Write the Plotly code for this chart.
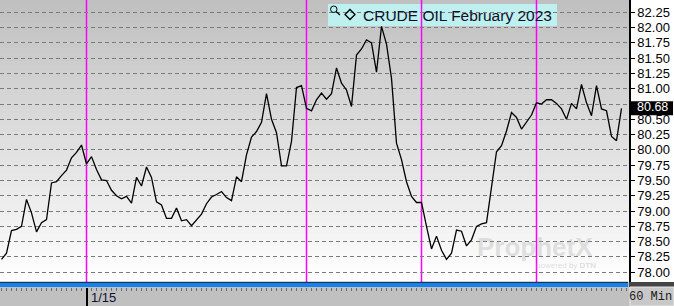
import plotly.graph_objects as go

# ---------------- data ----------------
bar_index = list(range(125))
close = [
    78.21, 78.31, 78.68, 78.70, 78.75, 79.19, 78.97, 78.66, 78.81, 78.86,
    79.46, 79.48, 79.58, 79.67, 79.87, 79.96, 80.08, 79.77, 79.89, 79.68,
    79.51, 79.50, 79.34, 79.25, 79.20, 79.24, 79.13, 79.55, 79.41, 79.72,
    79.55, 79.15, 79.10, 78.88, 78.88, 79.05, 78.84, 78.86, 78.76, 78.86,
    78.95, 79.12, 79.23, 79.27, 79.32, 79.22, 79.17, 79.56, 79.48, 79.92,
    80.21, 80.30, 80.45, 80.92, 80.50, 80.28, 79.74, 79.74, 80.14, 81.02,
    81.05, 80.68, 80.64, 80.82, 80.93, 80.83, 80.92, 81.34, 81.09, 80.98,
    80.71, 81.55, 81.65, 81.80, 81.75, 81.27, 82.02, 81.73, 81.17, 80.11,
    79.84, 79.48, 79.24, 79.14, 79.14, 78.75, 78.38, 78.59, 78.36, 78.21,
    78.31, 78.69, 78.67, 78.43, 78.53, 78.75, 78.79, 78.81, 79.35, 79.97,
    80.07, 80.31, 80.61, 80.53, 80.34, 80.46, 80.57, 80.77, 80.75, 80.82,
    80.82, 80.76, 80.67, 80.50, 80.76, 80.67, 81.07, 80.77, 80.56, 81.05,
    80.67, 80.64, 80.22, 80.15, 80.68,
]
session_breaks = [17, 61, 84, 107]          # bar index of magenta day separators
date_tick_index = 17
date_tick_label = "1/15"
price_ticks = [78.00 + 0.25 * k for k in range(18)]
title_text = "CRUDE OIL February 2023"
interval_text = "60 Min"

# ---------------- geometry helpers ----------------
W, H = 674, 306
PW, PH = 629, 287          # plot (paper) area in pixels
def px(x):
    return x / PW
def py(y):
    return (PH - y) / PH

last = close[-1]
# the last-price box hides the tick label it sits on
price_tick_text = ["" if abs(v - last) < 0.12 else f"{v:.2f}" for v in price_ticks]

shapes = []
# background gradient (gray at top -> white at bottom)
n_bands = 47
for k in range(n_bands):
    y0 = 282 * k / n_bands
    y1 = 282 * (k + 1) / n_bands
    c = int(round(191 + (255 - 191) * (k + 0.5) / n_bands))
    shapes.append(dict(type="rect", xref="paper", yref="paper", x0=0, x1=1,
                       y0=py(y1), y1=py(y0) + 0.001, fillcolor=f"rgb({c},{c},{c})",
                       line=dict(width=0), layer="below"))
# right price-axis column
shapes.append(dict(type="rect", xref="paper", yref="paper", x0=1, x1=px(W),
                   y0=py(282), y1=1, fillcolor="white", line=dict(width=0), layer="below"))
# dark strip under price axis
shapes.append(dict(type="rect", xref="paper", yref="paper", x0=1, x1=px(W),
                   y0=0, y1=py(282), fillcolor="#444444", line=dict(width=0), layer="above"))
# blue scroll bar
shapes.append(dict(type="rect", xref="paper", yref="paper", x0=0, x1=px(628),
                   y0=0, y1=py(282), fillcolor="#1483ee", line=dict(width=0), layer="above"))
shapes.append(dict(type="line", xref="paper", yref="paper", x0=0, x1=px(628),
                   y0=py(282.3), y1=py(282.3), line=dict(color="#202020", width=1), layer="above"))
# interval box
shapes.append(dict(type="rect", xref="paper", yref="paper", x0=px(630), x1=px(W),
                   y0=py(306), y1=py(287), fillcolor="#c8c8c8",
                   line=dict(color="#e8e8e8", width=1), layer="above"))
# title box (covers gridlines, under the separators)
shapes.append(dict(type="rect", xref="paper", yref="paper", x0=px(328), x1=px(557),
                   y0=py(26), y1=py(4), fillcolor="#bff0f0", line=dict(width=0), layer="between"))
# session separators
for b in session_breaks:
    shapes.append(dict(type="line", xref="x", yref="paper", x0=b, x1=b,
                       y0=py(282), y1=1, line=dict(color="#ff00ff", width=1.5), layer="between"))
# magnifier icon
shapes.append(dict(type="circle", xref="paper", yref="paper", x0=px(330.5), x1=px(337),
                   y0=py(12.5), y1=py(6), line=dict(color="#000000", width=1), layer="above"))
shapes.append(dict(type="line", xref="paper", yref="paper", x0=px(336), x1=px(340),
                   y0=py(11.5), y1=py(15), line=dict(color="#000000", width=1.2), layer="above"))
# diamond marker
cx, cy, r = 350, 14.5, 5
path = (f"M {px(cx)},{py(cy - r)} L {px(cx + r)},{py(cy)} L {px(cx)},{py(cy + r)} "
        f"L {px(cx - r)},{py(cy)} Z")
shapes.append(dict(type="path", xref="paper", yref="paper", path=path,
                   line=dict(color="#000000", width=1.3), layer="above"))
# last price box
shapes.append(dict(type="rect", xref="paper", yref="y", x0=px(631), x1=px(673),
                   y0=last - 0.115, y1=last + 0.115, fillcolor="#000000",
                   line=dict(width=0), layer="above"))

annotations = [
    dict(text=title_text, xref="paper", yref="paper", x=px(361), y=py(15),
         xanchor="left", yanchor="middle", showarrow=False,
         font=dict(family="Liberation Sans, Arial", size=15.5, color="#101028")),
    dict(text=date_tick_label, xref="x", yref="paper", x=date_tick_index, y=py(297),
         xanchor="left", yanchor="middle", showarrow=False, xshift=2,
         font=dict(family="Liberation Sans, Arial", size=13, color="#101030")),
    dict(text=interval_text, xref="paper", yref="paper", x=px(673), y=py(297),
         xanchor="right", yanchor="middle", showarrow=False, borderpad=0,
         font=dict(family="Liberation Mono, Courier New, monospace", size=12, color="#202020")),
    dict(text=f"{last:.2f}", xref="paper", yref="y", x=px(652), y=last,
         xanchor="center", yanchor="middle", showarrow=False, borderpad=0, yshift=1,
         font=dict(family="Liberation Sans, Arial", size=12.5, color="#ffffff")),
    dict(text="<b>ProphetX</b>", xref="paper", yref="paper", x=px(535), y=py(247),
         xanchor="center", yanchor="middle", showarrow=False,
         font=dict(family="Liberation Sans, Arial", size=26, color="rgba(160,160,160,0.30)")),
    dict(text="powered by <b>DTN</b>", xref="paper", yref="paper", x=px(566), y=py(265),
         xanchor="center", yanchor="middle", showarrow=False,
         font=dict(family="Liberation Sans, Arial", size=8, color="rgba(160,160,160,0.35)")),
]

fig = go.Figure()
fig.add_trace(go.Scatter(x=bar_index, y=close, mode="lines",
                         line=dict(color="#000000", width=1.3), hoverinfo="skip"))

fig.update_layout(
    width=W, height=H,
    margin=dict(l=0, r=W - PW, t=0, b=H - PH, pad=0),
    paper_bgcolor="#c0c0c0",
    plot_bgcolor="#ffffff",
    showlegend=False,
    shapes=shapes,
    annotations=annotations,
    xaxis=dict(range=[-0.3, 125.5], anchor="free", position=0,
               showgrid=False, zeroline=False, showline=False,
               tickvals=[date_tick_index], ticktext=[""], ticks="outside",
               ticklen=19, tickwidth=1.5, tickcolor="#000000",
               minor=dict(tickmode="linear", tick0=0, dtick=1, ticks="outside",
                          ticklen=3, tickwidth=1, tickcolor="#6a6a6a"),
               fixedrange=True),
    yaxis=dict(side="right", domain=[5 / PH, 1], range=[77.840, 82.451],
               tickvals=price_ticks, ticktext=price_tick_text, ticks="outside", ticklen=4,
               tickcolor="#000000", tickwidth=1,
               showline=True, linecolor="#000000", linewidth=1.5,
               showgrid=True, gridcolor="#7a7a7a", gridwidth=1, griddash="4px,3px",
               zeroline=False,
               tickfont=dict(family="Liberation Sans, Arial", size=13, color="#000000")),
)

fig.write_html("out.html")
